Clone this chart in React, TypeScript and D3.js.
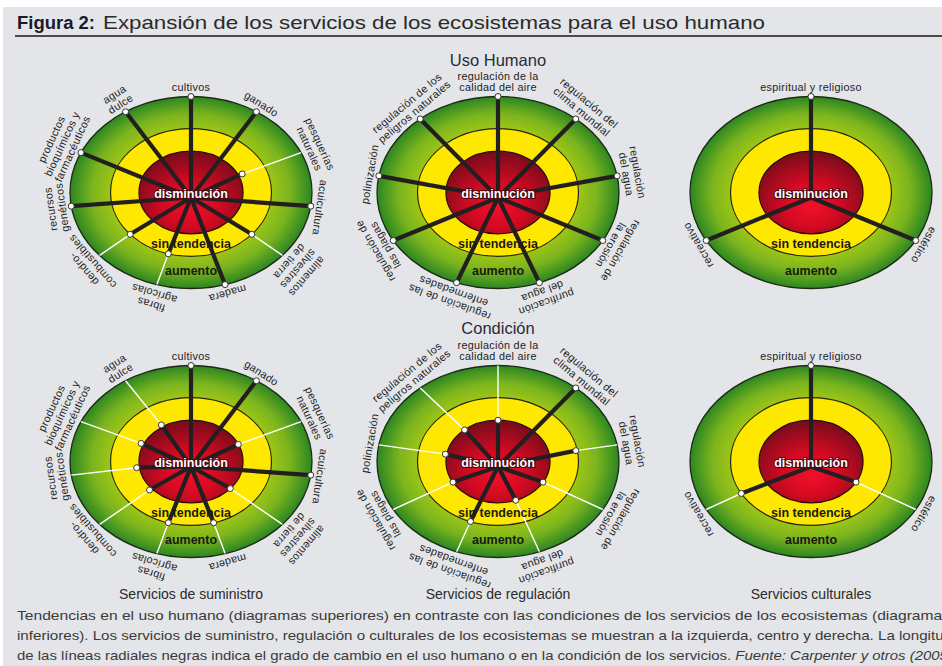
import React from 'react';
import * as d3 from 'd3';

const W = 942;
const H = 666;

// Etiquetas de cada servicio (una entrada por línea, de fuera hacia dentro)
const suministroLabels = [
  ['cultivos'],
  ['ganado'],
  ['pesquerías', 'naturales'],
  ['acuicultura'],
  ['alimentos', 'silvestres', 'de tierra'],
  ['madera'],
  ['fibras', 'agrícolas'],
  ['dendro-', 'combustibles'],
  ['recursos', 'genéticos'],
  ['productos', 'bioquímicos y', 'farmacéuticos'],
  ['agua', 'dulce'],
];
const regulacionLabels = [
  ['regulación de la', 'calidad del aire'],
  ['regulación del', 'clima mundial'],
  ['regulación', 'del agua'],
  ['regulación de', 'la erosión'],
  ['purificación', 'del agua'],
  ['regulación de las', 'enfermedades'],
  ['regulación de', 'las plagas'],
  ['polinización'],
  ['regulación de los', 'peligros naturales'],
];
const culturalLabels = [['espiritual y religioso'], ['estético'], ['recreativo']];

// Nivel de cada línea radial: 1 = borde de "disminución", 2 = borde de "sin tendencia", 3 = borde exterior ("aumento")
const usoSuministro = [3, 3, 1.15, 3, 2, 3, 2, 2, 3, 3, 3];
const condicionSuministro = [3, 3, 1, 3, 1, 2, 2, 1.1, 1.1, 1.1, 1.1];
const usoRegulacion = [3, 3, 3, 3, 3, 3, 3, 3, 3];
const condicionRegulacion = [1, 3, 1.95, 1, 1, 2, 1, 1.05, 1];
const usoCultural = [3, 3, 3];
const condicionCultural = [3, 1, 2];

const filas = ['Uso Humano', 'Condición'];
const columnas = ['Servicios de suministro', 'Servicios de regulación', 'Servicios culturales'];
const zonas = ['disminución', 'sin tendencia', 'aumento'];

const caption1 = 'Tendencias en el uso humano (diagramas superiores) en contraste con las condiciones de los servicios de los ecosistemas (diagramas';
const caption2 = 'inferiores). Los servicios de suministro, regulación o culturales de los ecosistemas se muestran a la izquierda, centro y derecha. La longitud';
const caption3a = 'de las líneas radiales negras indica el grado de cambio en el uso humano o en la condición de los servicios. ';
const caption3b = 'Fuente: Carpenter y otros (2005).';

const RX = 121;
const RY = 96;
const colX = [191, 498, 811];
const rowY = [192.5, 461.5];

// fracción del radio exterior para cada nivel
const level = d3.scaleLinear().domain([0, 1, 2, 3]).range([0, 0.43, 0.665, 1]);

const sans = "'Liberation Sans', Arial, sans-serif";

type DiagramProps = {
  id: string;
  cx: number;
  cy: number;
  labels: string[][];
  values: number[];
};

const Diagram = ({ id, cx, cy, labels, values }: DiagramProps) => {
  const angle = d3.scaleLinear().domain([0, labels.length]).range([0, 2 * Math.PI]);
  const hub = { x: cx, y: cy + 5 };
  const pt = (i: number, f: number) => {
    const a = angle(i);
    return { x: cx + f * RX * Math.sin(a), y: cy - f * RY * Math.cos(a) };
  };
  const gap = 5.5;
  const lh = 11.5;

  return (
    <g>
      <ellipse cx={cx} cy={cy} rx={RX} ry={RY} fill={`url(#green-${id})`} stroke="#1f2a14" strokeWidth={1.3} />
      <ellipse cx={cx} cy={cy} rx={RX * level(2)} ry={RY * level(2)} fill="#ffe800" stroke="#2a2410" strokeWidth={1.2} />
      <ellipse cx={cx} cy={cy} rx={RX * level(1)} ry={RY * level(1)} fill={`url(#red-${id})`} stroke="#2a0a0a" strokeWidth={1.2} />

      {values.map((v, i) => {
        if (v >= 3) return null;
        const a = pt(i, level(v));
        const b = pt(i, 1);
        return <line key={`w${i}`} x1={a.x} y1={a.y} x2={b.x} y2={b.y} stroke="#ffffff" strokeWidth={1.4} />;
      })}
      {values.map((v, i) => {
        const e = pt(i, level(v));
        return <line key={`s${i}`} x1={hub.x} y1={hub.y} x2={e.x} y2={e.y} stroke="#231f20" strokeWidth={4.2} />;
      })}
      {values.map((v, i) => {
        const e = pt(i, level(v));
        return <circle key={`d${i}`} cx={e.x} cy={e.y} r={3} fill="#ffffff" stroke="#333" strokeWidth={1} />;
      })}

      <text x={cx} y={cy + 5} textAnchor="middle" fontFamily={sans} fontWeight="bold" fontSize={12.5}
        fill="#ffffff" stroke="#4a0610" strokeWidth={2.2} paintOrder="stroke" strokeLinejoin="round">{zonas[0]}</text>
      <text x={cx} y={cy + 55} textAnchor="middle" fontFamily={sans} fontWeight="bold" fontSize={12.5} fill="#1a1a10">{zonas[1]}</text>
      <text x={cx} y={cy + 82} textAnchor="middle" fontFamily={sans} fontWeight="bold" fontSize={12.5} fill="#1a1a10">{zonas[2]}</text>

      {labels.map((lines, i) => {
        const p = pt(i, 1);
        const deg = (angle(i) * 180) / Math.PI;
        const n = lines.length;
        return (
          <g key={`l${i}`} transform={`translate(${p.x},${p.y}) rotate(${deg})`}>
            {lines.map((t, j) => (
              <text key={j} x={0} y={-(gap + (n - 1 - j) * lh)} textAnchor="middle"
                fontFamily={sans} fontSize={10.8} letterSpacing={0.3} fill="#232323">{t}</text>
            ))}
          </g>
        );
      })}
    </g>
  );
};

const panels = [
  { id: 'us', col: 0, row: 0, labels: suministroLabels, values: usoSuministro },
  { id: 'ur', col: 1, row: 0, labels: regulacionLabels, values: usoRegulacion },
  { id: 'uc', col: 2, row: 0, labels: culturalLabels, values: usoCultural },
  { id: 'cs', col: 0, row: 1, labels: suministroLabels, values: condicionSuministro },
  { id: 'cr', col: 1, row: 1, labels: regulacionLabels, values: condicionRegulacion },
  { id: 'cc', col: 2, row: 1, labels: culturalLabels, values: condicionCultural },
];

export default function App() {
  return (
    <svg width={W} height={H} style={{ position: 'absolute', left: 0, top: 0 }} xmlns="http://www.w3.org/2000/svg">
      <defs>
        {panels.map(p => (
          <React.Fragment key={p.id}>
            <radialGradient id={`green-${p.id}`} cx="50%" cy="50%" r="50%">
              <stop offset="0.62" stopColor="#a8ca14" />
              <stop offset="0.82" stopColor="#7ab41e" />
              <stop offset="1" stopColor="#2c8622" />
            </radialGradient>
            <radialGradient id={`red-${p.id}`} cx="50%" cy="62%" r="60%" fx="50%" fy="66%">
              <stop offset="0" stopColor="#f2102a" />
              <stop offset="0.45" stopColor="#d40a22" />
              <stop offset="1" stopColor="#7a0c1b" />
            </radialGradient>
          </React.Fragment>
        ))}
      </defs>

      <rect x={0} y={0} width={W} height={H} fill="#ffffff" />
      <rect x={3} y={7} width={W - 3} height={H - 7} fill="#e3e5e9" />

      <text x={17} y={29} fontFamily={sans} fontWeight="bold" fontSize={18} fill="#1a1a2a"
        textLength={78} lengthAdjust="spacingAndGlyphs">Figura 2:</text>
      <text x={103} y={29} fontFamily={sans} fontSize={19} fill="#2a2a2a"
        textLength={662} lengthAdjust="spacingAndGlyphs">Expansión de los servicios de los ecosistemas para el uso humano</text>
      <line x1={15} y1={36} x2={W} y2={36} stroke="#4a4a4a" strokeWidth={2} />

      {filas.map((f, i) => (
        <text key={f} x={colX[1]} y={[66, 334][i]} textAnchor="middle" fontFamily={sans} fontSize={16.5} fill="#2a2a3a">{f}</text>
      ))}

      {panels.map(p => (
        <Diagram key={p.id} id={p.id} cx={colX[p.col]} cy={rowY[p.row]} labels={p.labels} values={p.values} />
      ))}

      {columnas.map((c, i) => (
        <text key={c} x={colX[i]} y={599} textAnchor="middle" fontFamily={sans} fontSize={14} fill="#2a2a2a">{c}</text>
      ))}

      <g fontFamily={sans} fontSize={13} fill="#3a3a3a">
        <text x={17} y={620} textLength={933} lengthAdjust="spacingAndGlyphs">{caption1}</text>
        <text x={17} y={640} textLength={935} lengthAdjust="spacingAndGlyphs">{caption2}</text>
        <text x={17} y={660} textLength={940} lengthAdjust="spacingAndGlyphs">
          {caption3a}<tspan fontStyle="italic">{caption3b}</tspan>
        </text>
      </g>
    </svg>
  );
}
